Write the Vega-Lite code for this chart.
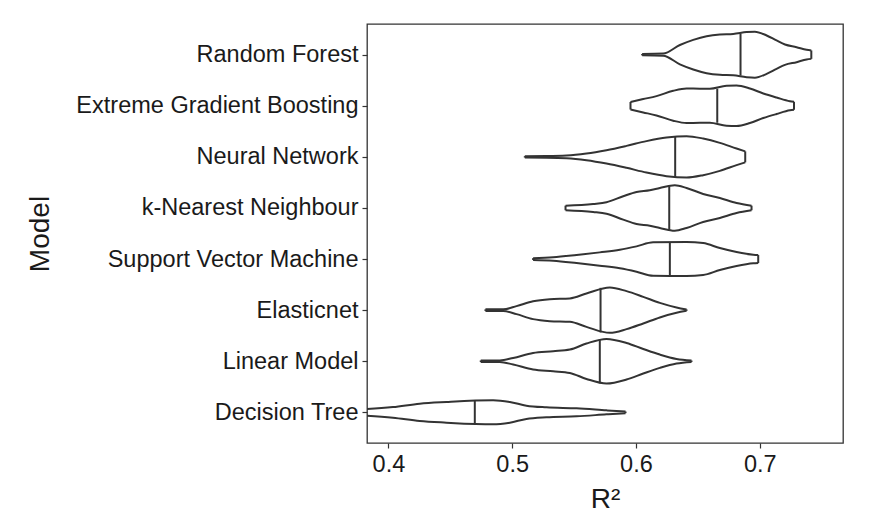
{
  "$schema": "https://vega.github.io/schema/vega-lite/v6.json",
  "autosize": {"type": "none"},
  "width": 476,
  "height": 419,
  "padding": {"left": 367, "top": 24, "right": 26, "bottom": 86},
  "background": "white",
  "config": {
    "font": "Liberation Sans",
    "view": {"stroke": "#333333", "strokeWidth": 1.3},
    "axis": {"grid": false, "domain": false, "tickColor": "#333333", "tickSize": 5, "tickWidth": 1.2, "labelFontSize": 23.5, "labelLimit": 600, "labelColor": "#1a1a1a", "titleFontSize": 28, "titleFontWeight": "normal", "titleColor": "#1a1a1a", "labelPadding": 4}
  },
  "datasets": {
    "outline": [
      {"model": "Random Forest", "r2": 0.6050, "d": 0.03},
      {"model": "Random Forest", "r2": 0.6220, "d": 0.045},
      {"model": "Random Forest", "r2": 0.6355, "d": 0.42},
      {"model": "Random Forest", "r2": 0.6463, "d": 0.643},
      {"model": "Random Forest", "r2": 0.6571, "d": 0.804},
      {"model": "Random Forest", "r2": 0.6678, "d": 0.878},
      {"model": "Random Forest", "r2": 0.6786, "d": 0.9},
      {"model": "Random Forest", "r2": 0.6894, "d": 0.98},
      {"model": "Random Forest", "r2": 0.6961, "d": 1.0},
      {"model": "Random Forest", "r2": 0.7056, "d": 0.835},
      {"model": "Random Forest", "r2": 0.7136, "d": 0.617},
      {"model": "Random Forest", "r2": 0.7204, "d": 0.443},
      {"model": "Random Forest", "r2": 0.7298, "d": 0.326},
      {"model": "Random Forest", "r2": 0.7379, "d": 0.209},
      {"model": "Random Forest", "r2": 0.7417, "d": 0.183},
      {"model": "Extreme Gradient Boosting", "r2": 0.5956, "d": 0.165},
      {"model": "Extreme Gradient Boosting", "r2": 0.6059, "d": 0.29},
      {"model": "Extreme Gradient Boosting", "r2": 0.6166, "d": 0.42},
      {"model": "Extreme Gradient Boosting", "r2": 0.6301, "d": 0.65},
      {"model": "Extreme Gradient Boosting", "r2": 0.6409, "d": 0.75},
      {"model": "Extreme Gradient Boosting", "r2": 0.6517, "d": 0.74},
      {"model": "Extreme Gradient Boosting", "r2": 0.6597, "d": 0.74},
      {"model": "Extreme Gradient Boosting", "r2": 0.6732, "d": 0.87},
      {"model": "Extreme Gradient Boosting", "r2": 0.6813, "d": 0.88},
      {"model": "Extreme Gradient Boosting", "r2": 0.6921, "d": 0.75},
      {"model": "Extreme Gradient Boosting", "r2": 0.7029, "d": 0.535},
      {"model": "Extreme Gradient Boosting", "r2": 0.7136, "d": 0.36},
      {"model": "Extreme Gradient Boosting", "r2": 0.7244, "d": 0.2},
      {"model": "Extreme Gradient Boosting", "r2": 0.7277, "d": 0.175},
      {"model": "Neural Network", "r2": 0.5102, "d": 0.03},
      {"model": "Neural Network", "r2": 0.5277, "d": 0.035},
      {"model": "Neural Network", "r2": 0.5439, "d": 0.057},
      {"model": "Neural Network", "r2": 0.5600, "d": 0.143},
      {"model": "Neural Network", "r2": 0.5762, "d": 0.29},
      {"model": "Neural Network", "r2": 0.5924, "d": 0.478},
      {"model": "Neural Network", "r2": 0.6085, "d": 0.683},
      {"model": "Neural Network", "r2": 0.6247, "d": 0.84},
      {"model": "Neural Network", "r2": 0.6409, "d": 0.9},
      {"model": "Neural Network", "r2": 0.6543, "d": 0.796},
      {"model": "Neural Network", "r2": 0.6678, "d": 0.609},
      {"model": "Neural Network", "r2": 0.6813, "d": 0.361},
      {"model": "Neural Network", "r2": 0.6883, "d": 0.24},
      {"model": "k-Nearest Neighbour", "r2": 0.5431, "d": 0.1},
      {"model": "k-Nearest Neighbour", "r2": 0.5654, "d": 0.174},
      {"model": "k-Nearest Neighbour", "r2": 0.5762, "d": 0.248},
      {"model": "k-Nearest Neighbour", "r2": 0.5897, "d": 0.509},
      {"model": "k-Nearest Neighbour", "r2": 0.6005, "d": 0.696},
      {"model": "k-Nearest Neighbour", "r2": 0.6112, "d": 0.77},
      {"model": "k-Nearest Neighbour", "r2": 0.6193, "d": 0.87},
      {"model": "k-Nearest Neighbour", "r2": 0.6314, "d": 0.99},
      {"model": "k-Nearest Neighbour", "r2": 0.6409, "d": 0.87},
      {"model": "k-Nearest Neighbour", "r2": 0.6543, "d": 0.609},
      {"model": "k-Nearest Neighbour", "r2": 0.6678, "d": 0.435},
      {"model": "k-Nearest Neighbour", "r2": 0.6813, "d": 0.217},
      {"model": "k-Nearest Neighbour", "r2": 0.6934, "d": 0.1},
      {"model": "Support Vector Machine", "r2": 0.5169, "d": 0.04},
      {"model": "Support Vector Machine", "r2": 0.5331, "d": 0.074},
      {"model": "Support Vector Machine", "r2": 0.5520, "d": 0.174},
      {"model": "Support Vector Machine", "r2": 0.5708, "d": 0.29},
      {"model": "Support Vector Machine", "r2": 0.5870, "d": 0.404},
      {"model": "Support Vector Machine", "r2": 0.6005, "d": 0.552},
      {"model": "Support Vector Machine", "r2": 0.6139, "d": 0.726},
      {"model": "Support Vector Machine", "r2": 0.6409, "d": 0.74},
      {"model": "Support Vector Machine", "r2": 0.6543, "d": 0.696},
      {"model": "Support Vector Machine", "r2": 0.6678, "d": 0.478},
      {"model": "Support Vector Machine", "r2": 0.6813, "d": 0.304},
      {"model": "Support Vector Machine", "r2": 0.6948, "d": 0.187},
      {"model": "Support Vector Machine", "r2": 0.6988, "d": 0.174},
      {"model": "Elasticnet", "r2": 0.4784, "d": 0.035},
      {"model": "Elasticnet", "r2": 0.4927, "d": 0.035},
      {"model": "Elasticnet", "r2": 0.5035, "d": 0.174},
      {"model": "Elasticnet", "r2": 0.5169, "d": 0.39},
      {"model": "Elasticnet", "r2": 0.5304, "d": 0.478},
      {"model": "Elasticnet", "r2": 0.5466, "d": 0.509},
      {"model": "Elasticnet", "r2": 0.5600, "d": 0.726},
      {"model": "Elasticnet", "r2": 0.5789, "d": 0.987},
      {"model": "Elasticnet", "r2": 0.5924, "d": 0.826},
      {"model": "Elasticnet", "r2": 0.6059, "d": 0.578},
      {"model": "Elasticnet", "r2": 0.6193, "d": 0.317},
      {"model": "Elasticnet", "r2": 0.6328, "d": 0.117},
      {"model": "Elasticnet", "r2": 0.6409, "d": 0.03},
      {"model": "Linear Model", "r2": 0.4746, "d": 0.035},
      {"model": "Linear Model", "r2": 0.4900, "d": 0.035},
      {"model": "Linear Model", "r2": 0.5008, "d": 0.143},
      {"model": "Linear Model", "r2": 0.5169, "d": 0.36},
      {"model": "Linear Model", "r2": 0.5331, "d": 0.435},
      {"model": "Linear Model", "r2": 0.5466, "d": 0.509},
      {"model": "Linear Model", "r2": 0.5600, "d": 0.77},
      {"model": "Linear Model", "r2": 0.5762, "d": 0.97},
      {"model": "Linear Model", "r2": 0.5924, "d": 0.796},
      {"model": "Linear Model", "r2": 0.6059, "d": 0.535},
      {"model": "Linear Model", "r2": 0.6193, "d": 0.29},
      {"model": "Linear Model", "r2": 0.6328, "d": 0.1},
      {"model": "Linear Model", "r2": 0.6449, "d": 0.03},
      {"model": "Decision Tree", "r2": 0.3750, "d": 0.12},
      {"model": "Decision Tree", "r2": 0.3827, "d": 0.143},
      {"model": "Decision Tree", "r2": 0.4037, "d": 0.23},
      {"model": "Decision Tree", "r2": 0.4253, "d": 0.378},
      {"model": "Decision Tree", "r2": 0.4469, "d": 0.448},
      {"model": "Decision Tree", "r2": 0.4846, "d": 0.522},
      {"model": "Decision Tree", "r2": 0.4981, "d": 0.448},
      {"model": "Decision Tree", "r2": 0.5115, "d": 0.29},
      {"model": "Decision Tree", "r2": 0.5277, "d": 0.217},
      {"model": "Decision Tree", "r2": 0.5520, "d": 0.174},
      {"model": "Decision Tree", "r2": 0.5762, "d": 0.087},
      {"model": "Decision Tree", "r2": 0.5916, "d": 0.035}
    ],
    "medians": [
      {"model": "Random Forest", "r2": 0.6845, "d": 0.91},
      {"model": "Extreme Gradient Boosting", "r2": 0.6657, "d": 0.74},
      {"model": "Neural Network", "r2": 0.6317, "d": 0.88},
      {"model": "k-Nearest Neighbour", "r2": 0.6269, "d": 0.95},
      {"model": "Support Vector Machine", "r2": 0.6274, "d": 0.74},
      {"model": "Elasticnet", "r2": 0.5714, "d": 0.97},
      {"model": "Linear Model", "r2": 0.5708, "d": 0.96},
      {"model": "Decision Tree", "r2": 0.4698, "d": 0.52}
    ]
  },
  "encoding": {
    "x": {"field": "r2", "type": "quantitative", "scale": {"domain": [0.3827, 0.7673], "nice": false, "zero": false}, "axis": {"values": [0.4, 0.5, 0.6, 0.7], "format": ".1f", "title": "R²", "titlePadding": 10}},
    "y": {"field": "model", "type": "nominal", "scale": {"type": "point", "padding": 0.6, "domain": ["Random Forest", "Extreme Gradient Boosting", "Neural Network", "k-Nearest Neighbour", "Support Vector Machine", "Elasticnet", "Linear Model", "Decision Tree"]}, "axis": {"title": "Model", "titleX": -327, "titleY": 209.5, "titleAngle": -90, "titleAlign": "center", "titleBaseline": "middle"}}
  },
  "layer": [
    {
      "data": {"name": "outline"},
      "mark": {"type": "line", "interpolate": "monotone", "stroke": "#333333", "strokeWidth": 2, "clip": true},
      "encoding": {
        "detail": {"field": "model"},
        "order": {"field": "r2", "type": "quantitative"},
        "yOffset": {"field": "d", "type": "quantitative", "scale": {"domain": [0, 1], "range": [0, -23]}}
      }
    },
    {
      "data": {"name": "outline"},
      "mark": {"type": "line", "interpolate": "monotone", "stroke": "#333333", "strokeWidth": 2, "clip": true},
      "encoding": {
        "detail": {"field": "model"},
        "order": {"field": "r2", "type": "quantitative"},
        "yOffset": {"field": "d", "type": "quantitative", "scale": {"domain": [0, 1], "range": [0, 23]}}
      }
    },
    {
      "data": {"name": "outline"},
      "transform": [
        {"joinaggregate": [{"op": "min", "field": "r2", "as": "lo"}, {"op": "max", "field": "r2", "as": "hi"}], "groupby": ["model"]},
        {"filter": "datum.r2 == datum.lo || datum.r2 == datum.hi"}
      ],
      "mark": {"type": "tick", "orient": "vertical", "color": "#333333", "thickness": 2, "opacity": 1, "clip": true},
      "encoding": {
        "size": {"field": "d", "type": "quantitative", "scale": {"type": "linear", "domain": [0, 1], "range": [0, 46]}, "legend": null}
      }
    },
    {
      "data": {"name": "medians"},
      "mark": {"type": "tick", "orient": "vertical", "color": "#333333", "thickness": 2, "opacity": 1},
      "encoding": {
        "size": {"field": "d", "type": "quantitative", "scale": {"type": "linear", "domain": [0, 1], "range": [0, 46]}, "legend": null}
      }
    }
  ],
  "resolve": {"scale": {"yOffset": "independent"}}
}
